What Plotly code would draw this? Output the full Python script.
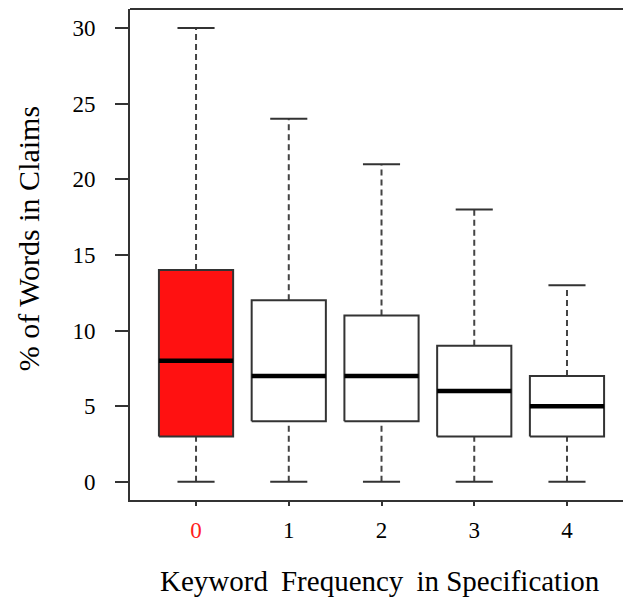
import plotly.graph_objects as go

categories = ["0", "1", "2", "3", "4"]
lower_whisker = [0, 0, 0, 0, 0]
q1 = [3, 4, 4, 3, 3]
median = [8, 7, 7, 6, 5]
q3 = [14, 12, 11, 9, 7]
upper_whisker = [30, 24, 21, 18, 13]
fills = ["#ff1111", "white", "white", "white", "white"]
y_ticks = [0, 5, 10, 15, 20, 25, 30]

BOX_HALF = 0.4
CAP_HALF = 0.2
EDGE = "#333333"
SERIF = "Liberation Serif, Times New Roman, serif"

fig = go.Figure()
pos = list(range(1, len(categories) + 1))

# whiskers (dashed)
wx, wy = [], []
for p, lo, a, b, hi in zip(pos, lower_whisker, q1, q3, upper_whisker):
    wx += [p, p, None, p, p, None]
    wy += [lo, a, None, b, hi, None]
fig.add_trace(go.Scatter(x=wx, y=wy, mode="lines",
                         line=dict(color="#444444", width=2, dash="6px,4px"),
                         hoverinfo="skip", showlegend=False))
# caps
cx, cy = [], []
for p, lo, hi in zip(pos, lower_whisker, upper_whisker):
    cx += [p - CAP_HALF, p + CAP_HALF, None, p - CAP_HALF, p + CAP_HALF, None]
    cy += [lo, lo, None, hi, hi, None]
fig.add_trace(go.Scatter(x=cx, y=cy, mode="lines",
                         line=dict(color=EDGE, width=2),
                         hoverinfo="skip", showlegend=False))
# boxes
for p, a, b, f in zip(pos, q1, q3, fills):
    fig.add_trace(go.Scatter(
        x=[p - BOX_HALF, p + BOX_HALF, p + BOX_HALF, p - BOX_HALF, p - BOX_HALF],
        y=[a, a, b, b, a], mode="lines", fill="toself", fillcolor=f,
        line=dict(color=EDGE, width=2), hoverinfo="skip", showlegend=False))
# medians
mx, my = [], []
for p, m in zip(pos, median):
    mx += [p - BOX_HALF, p + BOX_HALF, None]
    my += [m, m, None]
fig.add_trace(go.Scatter(x=mx, y=my, mode="lines",
                         line=dict(color="black", width=4.5),
                         hoverinfo="skip", showlegend=False))

ticktext = [("<span style='color:#ff2020'>%s</span>" % c) if i == 0 else c
            for i, c in enumerate(categories)]

fig.update_layout(
    width=623, height=603,
    margin=dict(l=130, r=0, t=9, b=103),
    plot_bgcolor="white", paper_bgcolor="white",
    font=dict(family=SERIF, size=23, color="black"),
    xaxis=dict(range=[0.288, 5.604], tickvals=pos, ticktext=ticktext,
               showgrid=False, zeroline=False, showline=True, mirror=False,
               linecolor=EDGE, linewidth=2, ticks="outside", ticklen=4,
               tickwidth=2, tickcolor=EDGE, ticklabelstandoff=4,
               tickfont=dict(family=SERIF, size=23)),
    yaxis=dict(range=[-1.2, 31.26], tickvals=y_ticks,
               showgrid=False, zeroline=False, showline=True, mirror=False,
               linecolor=EDGE, linewidth=2, ticks="outside", ticklen=13,
               tickwidth=2, tickcolor=EDGE, ticklabelstandoff=15,
               tickfont=dict(family=SERIF, size=23)),
    shapes=[dict(type="line", xref="paper", yref="paper", x0=0, x1=1.01,
                 y0=1, y1=1, line=dict(color=EDGE, width=2))],
    annotations=[
        dict(text="% of Words in Claims", xref="paper", yref="paper",
             x=-0.206, y=0.532, xanchor="center", yanchor="middle",
             textangle=-90, showarrow=False,
             font=dict(family=SERIF, size=30, color="black")),
        dict(text="Keyword \u2009Frequency \u2009in Specification",
             xref="paper", yref="paper", x=0.507, y=-0.165,
             xanchor="center", yanchor="middle", showarrow=False,
             font=dict(family=SERIF, size=29, color="black")),
    ],
)

fig.write_html("out.html")
